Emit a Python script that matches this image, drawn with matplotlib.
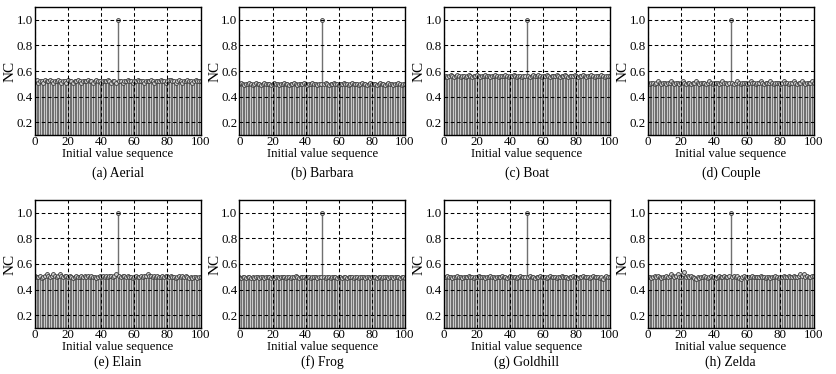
import matplotlib
matplotlib.use("Agg")
import matplotlib.pyplot as plt
import numpy as np

plt.rcParams['font.family'] = ['Liberation Serif', 'DejaVu Serif']

x_values = list(range(0, 101))

nc_aerial = [0.52, 0.53, 0.51, 0.52, 0.52, 0.51, 0.53, 0.52, 0.52, 0.53,
             0.52, 0.51, 0.52, 0.52, 0.53, 0.52, 0.51, 0.52, 0.52, 0.51,
             0.53, 0.52, 0.52, 0.51, 0.52, 0.52, 0.53, 0.52, 0.51, 0.52,
             0.52, 0.52, 0.53, 0.52, 0.52, 0.51, 0.52, 0.53, 0.52, 0.52,
             0.51, 0.52, 0.52, 0.52, 0.53, 0.52, 0.51, 0.52, 0.52, 0.51,
             1.00, 0.52, 0.52, 0.51, 0.52, 0.52, 0.53, 0.52, 0.52, 0.51,
             0.52, 0.52, 0.53, 0.52, 0.52, 0.52, 0.51, 0.52, 0.52, 0.52,
             0.53, 0.52, 0.51, 0.52, 0.52, 0.52, 0.53, 0.52, 0.52, 0.51,
             0.52, 0.53, 0.53, 0.52, 0.52, 0.51, 0.52, 0.53, 0.52, 0.51,
             0.52, 0.52, 0.53, 0.52, 0.52, 0.51, 0.52, 0.53, 0.52, 0.52,
             0.52]
nc_barbara = [0.50, 0.51, 0.50, 0.49, 0.50, 0.50, 0.51, 0.50, 0.49, 0.50,
              0.51, 0.50, 0.50, 0.49, 0.50, 0.51, 0.50, 0.50, 0.50, 0.49,
              0.50, 0.51, 0.50, 0.50, 0.49, 0.50, 0.50, 0.51, 0.50, 0.50,
              0.49, 0.50, 0.50, 0.51, 0.50, 0.49, 0.50, 0.50, 0.50, 0.51,
              0.50, 0.49, 0.50, 0.50, 0.51, 0.50, 0.50, 0.49, 0.50, 0.50,
              1.00, 0.50, 0.51, 0.50, 0.49, 0.50, 0.50, 0.51, 0.50, 0.50,
              0.49, 0.50, 0.50, 0.51, 0.50, 0.50, 0.49, 0.50, 0.51, 0.50,
              0.50, 0.50, 0.49, 0.50, 0.51, 0.50, 0.50, 0.49, 0.50, 0.51,
              0.50, 0.50, 0.50, 0.49, 0.50, 0.51, 0.50, 0.50, 0.49, 0.50,
              0.51, 0.50, 0.50, 0.49, 0.50, 0.50, 0.51, 0.50, 0.49, 0.50,
              0.50]
nc_boat = [0.55, 0.56, 0.55, 0.56, 0.57, 0.56, 0.55, 0.56, 0.57, 0.56,
           0.55, 0.56, 0.56, 0.55, 0.56, 0.57, 0.56, 0.55, 0.56, 0.56,
           0.57, 0.56, 0.55, 0.56, 0.56, 0.57, 0.56, 0.56, 0.55, 0.56,
           0.56, 0.57, 0.56, 0.55, 0.56, 0.56, 0.56, 0.57, 0.56, 0.55,
           0.56, 0.56, 0.57, 0.56, 0.55, 0.56, 0.56, 0.55, 0.56, 0.56,
           1.00, 0.56, 0.55, 0.56, 0.57, 0.56, 0.56, 0.57, 0.56, 0.55,
           0.56, 0.56, 0.57, 0.56, 0.55, 0.56, 0.56, 0.56, 0.57, 0.56,
           0.55, 0.56, 0.56, 0.57, 0.56, 0.55, 0.56, 0.56, 0.56, 0.57,
           0.56, 0.55, 0.56, 0.56, 0.57, 0.56, 0.55, 0.56, 0.56, 0.57,
           0.56, 0.55, 0.56, 0.56, 0.56, 0.57, 0.56, 0.55, 0.56, 0.56,
           0.56]
nc_couple = [0.51, 0.50, 0.51, 0.51, 0.50, 0.51, 0.52, 0.51, 0.50, 0.51,
             0.51, 0.50, 0.51, 0.51, 0.52, 0.51, 0.50, 0.51, 0.51, 0.50,
             0.51, 0.52, 0.51, 0.50, 0.51, 0.51, 0.50, 0.51, 0.51, 0.52,
             0.51, 0.50, 0.51, 0.51, 0.51, 0.50, 0.51, 0.52, 0.51, 0.50,
             0.51, 0.51, 0.51, 0.50, 0.51, 0.52, 0.51, 0.51, 0.50, 0.51,
             1.00, 0.51, 0.50, 0.51, 0.52, 0.51, 0.50, 0.51, 0.51, 0.51,
             0.50, 0.51, 0.52, 0.51, 0.51, 0.50, 0.51, 0.51, 0.52, 0.51,
             0.50, 0.51, 0.51, 0.51, 0.52, 0.51, 0.50, 0.51, 0.51, 0.51,
             0.50, 0.51, 0.52, 0.51, 0.51, 0.50, 0.51, 0.51, 0.52, 0.51,
             0.50, 0.51, 0.51, 0.52, 0.51, 0.50, 0.51, 0.51, 0.51, 0.52,
             0.51]
nc_elain = [0.51, 0.50, 0.50, 0.51, 0.49, 0.50, 0.51, 0.52, 0.51, 0.50,
            0.51, 0.52, 0.51, 0.50, 0.51, 0.52, 0.51, 0.50, 0.51, 0.51,
            0.50, 0.51, 0.50, 0.49, 0.50, 0.51, 0.50, 0.50, 0.51, 0.50,
            0.51, 0.50, 0.51, 0.50, 0.51, 0.50, 0.50, 0.49, 0.50, 0.51,
            0.50, 0.51, 0.50, 0.51, 0.50, 0.51, 0.51, 0.50, 0.51, 0.52,
            1.00, 0.51, 0.50, 0.51, 0.51, 0.50, 0.51, 0.50, 0.50, 0.49,
            0.50, 0.51, 0.50, 0.50, 0.51, 0.50, 0.51, 0.51, 0.52, 0.51,
            0.51, 0.50, 0.51, 0.50, 0.51, 0.50, 0.50, 0.51, 0.50, 0.51,
            0.51, 0.50, 0.51, 0.50, 0.50, 0.49, 0.50, 0.51, 0.50, 0.51,
            0.50, 0.51, 0.50, 0.49, 0.50, 0.49, 0.50, 0.50, 0.49, 0.50,
            0.50]
nc_frog = [0.50, 0.49, 0.50, 0.50, 0.49, 0.50, 0.50, 0.49, 0.50, 0.49,
           0.50, 0.50, 0.49, 0.50, 0.50, 0.49, 0.50, 0.50, 0.50, 0.49,
           0.50, 0.49, 0.50, 0.50, 0.49, 0.50, 0.50, 0.50, 0.49, 0.50,
           0.50, 0.49, 0.50, 0.50, 0.51, 0.50, 0.49, 0.50, 0.50, 0.50,
           0.49, 0.50, 0.50, 0.49, 0.50, 0.50, 0.50, 0.49, 0.50, 0.50,
           1.00, 0.50, 0.49, 0.50, 0.50, 0.49, 0.50, 0.50, 0.50, 0.49,
           0.50, 0.50, 0.49, 0.50, 0.50, 0.49, 0.50, 0.50, 0.50, 0.49,
           0.50, 0.50, 0.49, 0.50, 0.50, 0.50, 0.49, 0.50, 0.50, 0.49,
           0.50, 0.50, 0.50, 0.49, 0.50, 0.50, 0.49, 0.50, 0.50, 0.50,
           0.49, 0.50, 0.50, 0.49, 0.50, 0.50, 0.50, 0.49, 0.50, 0.50,
           0.49]
nc_goldhill = [0.50, 0.50, 0.51, 0.50, 0.50, 0.49, 0.50, 0.50, 0.51, 0.50,
               0.50, 0.49, 0.50, 0.50, 0.50, 0.51, 0.50, 0.50, 0.49, 0.50,
               0.50, 0.51, 0.50, 0.50, 0.50, 0.49, 0.50, 0.50, 0.51, 0.50,
               0.50, 0.49, 0.50, 0.50, 0.50, 0.51, 0.50, 0.50, 0.49, 0.50,
               0.51, 0.50, 0.50, 0.50, 0.49, 0.50, 0.51, 0.50, 0.50, 0.50,
               1.00, 0.50, 0.51, 0.50, 0.50, 0.49, 0.50, 0.50, 0.51, 0.50,
               0.50, 0.50, 0.49, 0.50, 0.51, 0.50, 0.50, 0.50, 0.49, 0.50,
               0.50, 0.51, 0.50, 0.50, 0.50, 0.49, 0.50, 0.50, 0.51, 0.50,
               0.50, 0.49, 0.50, 0.50, 0.51, 0.50, 0.50, 0.50, 0.49, 0.50,
               0.51, 0.50, 0.50, 0.50, 0.49, 0.50, 0.48, 0.50, 0.51, 0.50,
               0.50]
nc_zelda = [0.50, 0.50, 0.49, 0.50, 0.51, 0.50, 0.51, 0.50, 0.49, 0.50,
            0.50, 0.51, 0.50, 0.51, 0.52, 0.51, 0.50, 0.51, 0.52, 0.50,
            0.50, 0.52, 0.54, 0.50, 0.51, 0.50, 0.51, 0.50, 0.49, 0.48,
            0.50, 0.49, 0.50, 0.50, 0.51, 0.50, 0.49, 0.50, 0.51, 0.50,
            0.50, 0.49, 0.50, 0.51, 0.50, 0.50, 0.51, 0.50, 0.50, 0.51,
            1.00, 0.50, 0.51, 0.50, 0.51, 0.49, 0.48, 0.50, 0.51, 0.50,
            0.49, 0.50, 0.50, 0.51, 0.50, 0.50, 0.50, 0.50, 0.51, 0.50,
            0.50, 0.49, 0.50, 0.50, 0.49, 0.50, 0.50, 0.51, 0.50, 0.49,
            0.50, 0.50, 0.51, 0.50, 0.50, 0.51, 0.50, 0.50, 0.51, 0.50,
            0.50, 0.51, 0.52, 0.51, 0.52, 0.50, 0.51, 0.50, 0.50, 0.51,
            0.51]

panel_titles = ["(a) Aerial", "(b) Barbara", "(c) Boat", "(d) Couple",
                "(e) Elain", "(f) Frog", "(g) Goldhill", "(h) Zelda"]
panel_series = [nc_aerial, nc_barbara, nc_boat, nc_couple,
                nc_elain, nc_frog, nc_goldhill, nc_zelda]

x_ticks = [0, 20, 40, 60, 80, 100]
y_ticks = [0.2, 0.4, 0.6, 0.8, 1.0]
x_label = "Initial value sequence"
y_label = "NC"

W, H = 836, 374
fig = plt.figure(figsize=(W / 100, H / 100), dpi=100)

lefts = [35, 239.5, 444, 648]
tops = [7, 200]
ax_w, ax_h = 165.5, 128
title_y = [173, 362]
xlabel_top = [148, 341]

for i, (title, vals) in enumerate(zip(panel_titles, panel_series)):
    r, c = divmod(i, 4)
    l = lefts[c]
    t = tops[r]
    ax = fig.add_axes([l / W, 1 - (t + ax_h) / H, ax_w / W, ax_h / H])
    ml, sl, bl = ax.stem(x_values, vals, bottom=0)
    plt.setp(sl, color='#707070', linewidth=1.0)
    plt.setp(ml, marker='o', markersize=2.8, markerfacecolor='#cfcfcf',
             markeredgecolor='#3a3a3a', markeredgewidth=0.6)
    bl.set_visible(False)
    ax.set_xlim(0, 100)
    ax.set_ylim(0.1, 1.1)
    ax.set_xticks(x_ticks)
    ax.set_yticks(y_ticks)
    ax.set_yticklabels([f"{v:.1f}" for v in y_ticks])
    ax.grid(True, color='black', linestyle=(0, (3.5, 2.5)), linewidth=0.75)
    ax.set_axisbelow(False)
    ax.tick_params(axis='both', direction='in', length=2, width=0.6,
                   labelsize=9.3, pad=1.5, colors='black')
    ax.tick_params(axis='x', pad=1.0)
    for s in ax.spines.values():
        s.set_linewidth(1.0)
    ax.set_ylabel(y_label, fontsize=11, labelpad=0)
    fig.text((l + ax_w / 2) / W, 1 - xlabel_top[r] / H, x_label,
             ha='center', va='top', fontsize=9.2)
    fig.text((l + ax_w / 2) / W, 1 - title_y[r] / H, title,
             ha='center', va='center', fontsize=9.8)

fig.savefig("out.png", dpi=100)
